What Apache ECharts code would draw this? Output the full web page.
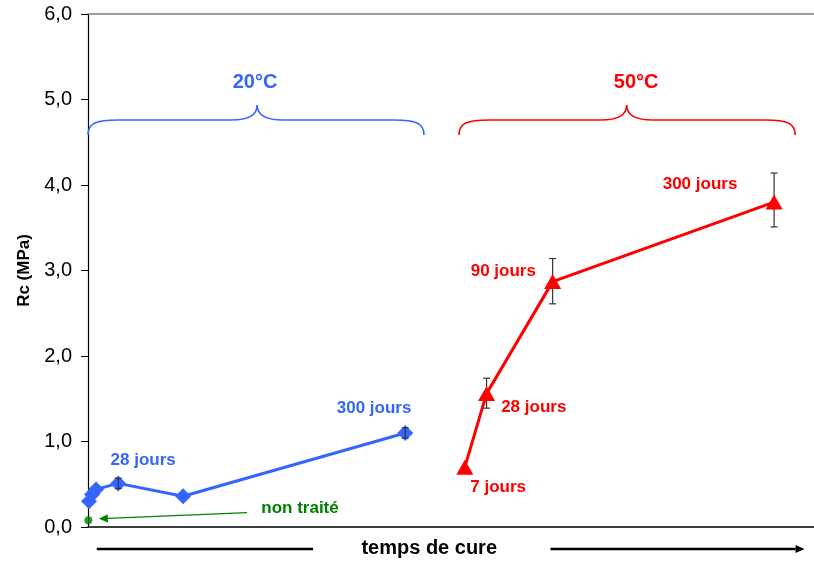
<!DOCTYPE html>
<html><head><meta charset="utf-8">
<script src="https://cdn.jsdelivr.net/npm/echarts@6/dist/echarts.min.js"></script>
<style>html,body{margin:0;padding:0;background:#fff}#c{width:814px;height:562px}</style>
</head><body><div id="c"></div>
<script>
// ---- data ----
const yTicks = [0, 1, 2, 3, 4, 5, 6];
const blueX = [0.14, 0.55, 1.1, 4.17, 13.1, 43.7];
const blueY = [0.30, 0.38, 0.44, 0.51, 0.36, 1.10];
const blueErrLow = [null, null, null, 0.45, null, 1.04];
const blueErrHigh = [null, null, null, 0.57, null, 1.16];
const redX = [51.9, 54.9, 64.0, 94.5];
const redY = [0.70, 1.56, 2.87, 3.80];
const redErrLow = [null, 1.39, 2.61, 3.51];
const redErrHigh = [null, 1.74, 3.14, 4.14];
const untreatedX = [0.05];
const untreatedY = [0.08];
const blueLabels = ['28 jours', '300 jours'];
const redLabels = ['7 jours', '28 jours', '90 jours', '300 jours'];
const groupLabels = ['20°C', '50°C'];
const untreatedLabel = 'non traité';
const xTitle = 'temps de cure';
const yTitle = 'Rc (MPa)';

// ---- styles ----
const FONT = 'Liberation Sans, Arial, Helvetica, sans-serif';
const BLUE = '#3366FF', RED = '#FF0000', GREEN = '#008000';

function errData(xs, lo, hi) {
  const out = [];
  xs.forEach((x, i) => { if (lo[i] != null) out.push([x, lo[i], hi[i]]); });
  return out;
}
function errRender(params, api) {
  const x = api.value(0);
  const p1 = api.coord([x, api.value(1)]);
  const p2 = api.coord([x, api.value(2)]);
  const w = 3.5;
  const st = { stroke: '#333', lineWidth: 1.2 };
  return { type: 'group', children: [
    { type: 'line', shape: { x1: p1[0], y1: p1[1], x2: p2[0], y2: p2[1] }, style: st },
    { type: 'line', shape: { x1: p1[0]-w, y1: p1[1], x2: p1[0]+w, y2: p1[1] }, style: st },
    { type: 'line', shape: { x1: p2[0]-w, y1: p2[1], x2: p2[0]+w, y2: p2[1] }, style: st }
  ]};
}

const chart = echarts.init(document.getElementById('c'), null, { renderer: 'canvas' });
chart.setOption({
  animation: false,
  backgroundColor: '#fff',
  grid: { left: 88, right: 0, top: 14, bottom: 35, containLabel: false },
  xAxis: [
    { type: 'value', min: 0, max: 100, position: 'bottom',
      axisLine: { show: true, lineStyle: { color: '#000', width: 1.5 } },
      axisTick: { show: false }, axisLabel: { show: false }, splitLine: { show: false } },
    { type: 'value', min: 0, max: 100, position: 'top',
      axisLine: { show: true, lineStyle: { color: '#808080', width: 1.5 } },
      axisTick: { show: false }, axisLabel: { show: false }, splitLine: { show: false } }
  ],
  yAxis: {
    type: 'value', min: yTicks[0], max: yTicks[yTicks.length-1], interval: 1,
    axisLine: { show: true, lineStyle: { color: '#000', width: 1.2 } },
    axisTick: { show: true, length: 7, lineStyle: { color: '#000' } },
    splitLine: { show: false },
    axisLabel: { margin: 16, color: '#000', fontSize: 20, fontFamily: FONT,
      formatter: v => v.toFixed(1).replace('.', ',') },
    name: yTitle, nameLocation: 'middle', nameGap: 47,
    nameTextStyle: { fontSize: 17, fontWeight: 'bold', color: '#000', fontFamily: FONT }
  },
  series: [
    { type: 'line', name: '20°C', data: blueX.map((x, i) => [x, blueY[i]]),
      symbol: 'diamond', symbolSize: [16, 16], itemStyle: { color: BLUE },
      lineStyle: { color: BLUE, width: 3 }, z: 3 },
    { type: 'line', name: '50°C', data: redX.map((x, i) => [x, redY[i]]),
      symbol: 'triangle', symbolSize: [17, 15], itemStyle: { color: RED },
      lineStyle: { color: RED, width: 3 }, z: 3 },
    { type: 'scatter', name: untreatedLabel, data: untreatedX.map((x, i) => [x, untreatedY[i]]),
      symbol: 'circle', symbolSize: 8, itemStyle: { color: GREEN }, z: 4 },
    { type: 'custom', data: errData(blueX, blueErrLow, blueErrHigh), renderItem: errRender, z: 5 },
    { type: 'custom', data: errData(redX, redErrLow, redErrHigh), renderItem: errRender, z: 2 }
  ]
});

// ---- annotations (positions in data units) ----
const P = (x, y) => chart.convertToPixel({ gridIndex: 0 }, [x, y]);
function txt(s, x, y, color, size) {
  const p = P(x, y);
  return { type: 'text', x: p[0], y: p[1], z: 10,
    style: { text: s, fill: color, font: 'bold ' + size + 'px ' + FONT, align: 'center', verticalAlign: 'middle' } };
}
function seg(x1, y1, x2, y2, color, w) {
  return { type: 'line', z: 10, shape: { x1, y1, x2, y2 }, style: { stroke: color, lineWidth: w } };
}
function bez(x1, y1, c1x, c1y, c2x, c2y, x2, y2, color, w) {
  return { type: 'bezierCurve', z: 10,
    shape: { x1, y1, x2, y2, cpx1: c1x, cpy1: c1y, cpx2: c2x, cpy2: c2y },
    style: { stroke: color, lineWidth: w, fill: null } };
}
function brace(x0, x1, xc, color) {
  const yE = P(0, 4.585)[1], yH = P(0, 4.76)[1], yC = P(0, 4.936)[1];
  const a = P(x0, 0)[0], b = P(x1, 0)[0], c = P(xc, 0)[0];
  const w = 1.5;
  return [
    bez(a, yE, a, yH + 3, a + 8, yH, a + 30, yH, color, w),
    seg(a + 30, yH, c - 26, yH, color, w),
    bez(c - 26, yH, c - 8, yH, c, yH - 5, c, yC, color, w),
    bez(c, yC, c, yH - 5, c + 8, yH, c + 26, yH, color, w),
    seg(c + 26, yH, b - 30, yH, color, w),
    bez(b - 30, yH, b - 8, yH, b, yH + 3, b, yE, color, w)
  ];
}
function arrowLine(x0, y0, x1, y1, color, w, head) {
  const a = P(x0, y0), b = P(x1, y1);
  const ang = Math.atan2(b[1]-a[1], b[0]-a[0]);
  const hl = head, hw = head * 0.45;
  const bx = b[0] - hl*Math.cos(ang), by = b[1] - hl*Math.sin(ang);
  const nx = -Math.sin(ang)*hw, ny = Math.cos(ang)*hw;
  return [
    { type: 'line', z: 10, shape: { x1: a[0], y1: a[1], x2: bx, y2: by }, style: { stroke: color, lineWidth: w } },
    { type: 'polygon', z: 10, shape: { points: [[b[0], b[1]], [bx+nx, by+ny], [bx-nx, by-ny]] }, style: { fill: color } }
  ];
}
const yBottom = P(0, -0.257)[1];
const elems = []
  .concat(brace(0, 46.28, 23.3, BLUE))
  .concat(brace(51.1, 97.4, 74.2, RED))
  .concat([
    txt(groupLabels[0], 23.0, 5.20, BLUE, 20),
    txt(groupLabels[1], 75.5, 5.20, RED, 20),
    txt(blueLabels[0], 7.6, 0.78, BLUE, 17),
    txt(blueLabels[1], 39.4, 1.39, BLUE, 17),
    txt(redLabels[0], 56.5, 0.47, RED, 17),
    txt(redLabels[1], 61.4, 1.40, RED, 17),
    txt(redLabels[2], 57.2, 2.99, RED, 17),
    txt(redLabels[3], 84.3, 4.01, RED, 17),
    txt(untreatedLabel, 29.2, 0.22, GREEN, 17),
    txt(xTitle, 47.0, -0.257, '#000', 20),
    seg(P(1.2, 0)[0], yBottom, P(31.0, 0)[0], yBottom, '#000', 2.5)
  ])
  .concat(arrowLine(21.9, 0.167, 1.5, 0.097, GREEN, 1.3, 9))
  .concat(arrowLine(63.7, -0.257, 98.7, -0.257, '#000', 2.5, 9));
chart.setOption({ graphic: { elements: elems } });
</script></body></html>
